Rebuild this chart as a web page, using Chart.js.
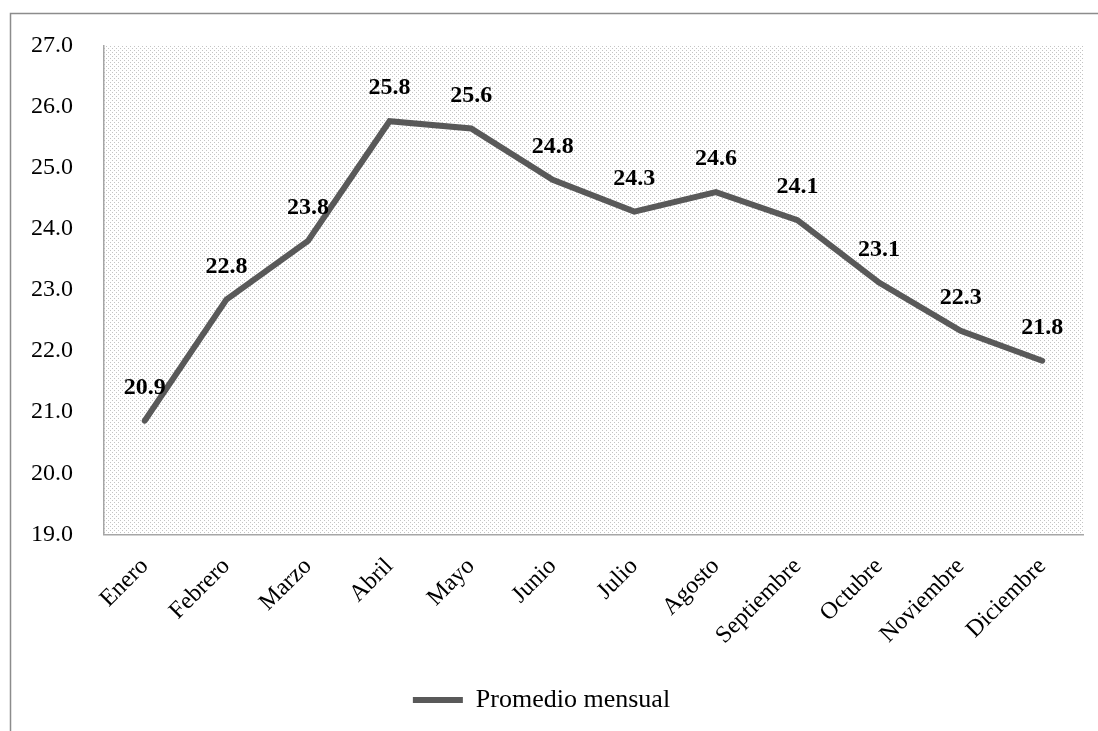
<!DOCTYPE html>
<html>
<head>
<meta charset="utf-8">
<script src="https://cdn.jsdelivr.net/npm/chart.js@4/dist/chart.umd.min.js"></script>
<style>
  html, body { margin: 0; padding: 0; background: #fff; }
  #wrap { width: 1098px; height: 731px; position: relative; }
</style>
</head>
<body>
<div id="wrap"><canvas id="chart" width="1098" height="731"></canvas></div>
<script>
// Data
const months = ['Enero', 'Febrero', 'Marzo', 'Abril', 'Mayo', 'Junio', 'Julio', 'Agosto', 'Septiembre', 'Octubre', 'Noviembre', 'Diciembre'];
const promedio = [20.86, 22.84, 23.8, 25.76, 25.64, 24.8, 24.28, 24.6, 24.14, 23.12, 22.33, 21.84];
const yTicks = { min: 19, max: 27, step: 1 };
const seriesName = 'Promedio mensual';

const FONT = "'Liberation Serif', 'Times New Roman', serif";

// dotted fill for the plot area
function makePattern() {
    const c = document.createElement('canvas');
    c.width = 4; c.height = 4;
    const g = c.getContext('2d');
    g.fillStyle = '#fff';
    g.fillRect(0, 0, 4, 4);
    g.fillStyle = '#c4c4c4';
    g.fillRect(0, 0, 1, 1);
    g.fillRect(2, 2, 1, 1);
    return g.createPattern(c, 'repeat');
}

const bgPlugin = {
    id: 'bgPlugin',
    beforeDraw(chart) {
        const { ctx, chartArea: a } = chart;
        ctx.save();
        // outer frame (top + left)
        ctx.strokeStyle = '#8c8c8c';
        ctx.lineWidth = 1.5;
        ctx.beginPath();
        ctx.moveTo(10.5, chart.height);
        ctx.lineTo(10.5, 13.5);
        ctx.lineTo(chart.width, 13.5);
        ctx.stroke();
        // plot area
        ctx.fillStyle = makePattern();
        ctx.fillRect(a.left, a.top, a.right - a.left, a.bottom - a.top);
        ctx.restore();
    }
};

// simple value labels above each point
const labelPlugin = {
    id: 'labelPlugin',
    afterDatasetsDraw(chart) {
        const { ctx } = chart;
        const meta = chart.getDatasetMeta(0);
        ctx.save();
        ctx.font = 'bold 24px ' + FONT;
        ctx.fillStyle = '#000';
        ctx.textAlign = 'center';
        ctx.textBaseline = 'middle';
        meta.data.forEach((pt, i) => {
            ctx.fillText(promedio[i].toFixed(1), pt.x, pt.y - 33);
        });
        ctx.restore();
    }
};

new Chart(document.getElementById('chart'), {
    type: 'line',
    data: {
        labels: months,
        datasets: [{
            label: seriesName,
            data: promedio,
            borderColor: '#595959',
            backgroundColor: '#595959',
            borderWidth: 6,
            tension: 0,
            pointRadius: 0,
            pointStyle: 'line',
            borderCapStyle: 'round',
            borderJoinStyle: 'miter'
        }]
    },
    options: {
        responsive: false,
        animation: false,
        layout: { padding: { left: 0, right: 15, top: 40, bottom: 8 } },
        plugins: {
            legend: {
                position: 'bottom',
                labels: {
                    usePointStyle: true,
                    pointStyleWidth: 50,
                    color: '#000',
                    padding: 9,
                    font: { family: FONT, size: 26 }
                }
            },
            tooltip: { enabled: false }
        },
        scales: {
            x: {
                offset: true,
                grid: { display: false, drawTicks: false },
                border: { color: '#a6a6a6', width: 1.5 },
                afterFit: scale => { scale.height += 10; },
                ticks: {
                    color: '#000',
                    maxRotation: 45,
                    minRotation: 45,
                    padding: 18,
                    font: { family: FONT, size: 24 }
                }
            },
            y: {
                min: yTicks.min,
                max: yTicks.max,
                grid: { display: false, drawTicks: false },
                border: { color: '#a6a6a6', width: 1.5 },
                ticks: {
                    stepSize: yTicks.step,
                    color: '#000',
                    padding: 31,
                    font: { family: FONT, size: 24 },
                    callback: v => v.toFixed(1)
                }
            }
        }
    },
    plugins: [bgPlugin, labelPlugin]
});
</script>
</body>
</html>
